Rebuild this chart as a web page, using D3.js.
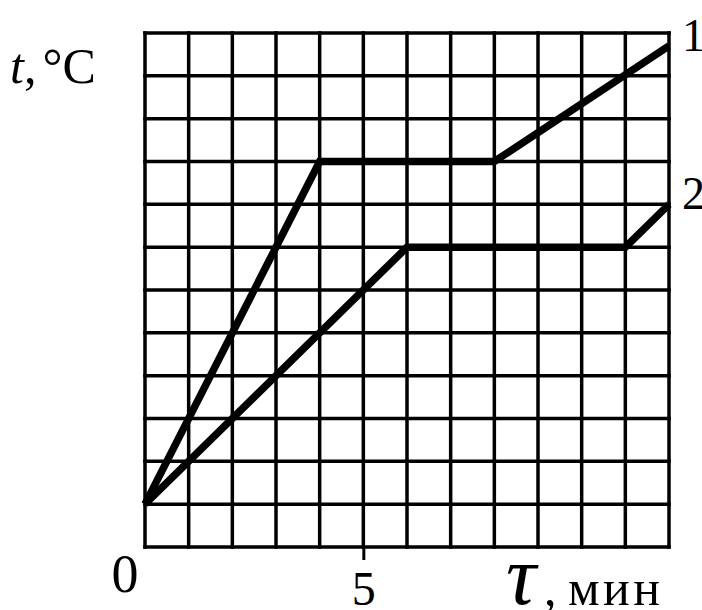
<!DOCTYPE html>
<html>
<head>
<meta charset="utf-8">
<script src="https://cdn.jsdelivr.net/npm/d3@7"></script>
<style>
  body { margin: 0; background: #fff; }
  svg { display: block; }
  text { font-family: "Liberation Serif", "Times New Roman", serif; fill: #000; }
</style>
</head>
<body>
<svg></svg>
<script>
// DATA
var curveNames = ["1", "2"];
var tau1 = [0, 4, 8, 12];        // мин
var temp1 = [0, 8, 8, 10.7];     // cells
var tau2 = [0, 6, 11, 12];
var temp2 = [0, 6, 6, 7];
var xTicks = [5];
var xDomain = [0, 12];
var yDomain = [-1, 11];

// SVG
var width = 702, height = 610;
var svg = d3.select("svg").attr("width", width).attr("height", height);

// SCALES
var x = d3.scaleLinear().domain(xDomain).range([145, 669]);
var y = d3.scaleLinear().domain(yDomain).range([547, 33]);

// GRID
var grid = svg.append("g").attr("stroke", "#000").attr("stroke-width", 3.5);

grid.selectAll(".vline")
.data(d3.range(xDomain[0], xDomain[1] + 1))
.enter()
.append("line")
.attr("class", "vline")
.attr("x1", (d)=>x(d)).attr("x2", (d)=>x(d))
.attr("y1", y(yDomain[0]) + 1.75).attr("y2", y(yDomain[1]) - 1.75);

grid.selectAll(".hline")
.data(d3.range(yDomain[0], yDomain[1] + 1))
.enter()
.append("line")
.attr("class", "hline")
.attr("y1", (d)=>y(d)).attr("y2", (d)=>y(d))
.attr("x1", x(xDomain[0]) - 1.75).attr("x2", x(xDomain[1]) + 1.75);

// X TICK
var xAxis = d3.axisBottom(x).tickValues(xTicks).tickSize(13).tickPadding(12);
var ax = svg.append("g")
.attr("transform", "translate(0," + y(yDomain[0]) + ")")
.call(xAxis);
ax.select(".domain").remove();
ax.selectAll(".tick line").attr("stroke", "#000").attr("stroke-width", 3);
ax.selectAll(".tick text")
.attr("dy", null)
.attr("y", 58)
.style("font-size", "48px")
.style("font-family", "'Liberation Serif', serif")
.attr("fill", "#000");

// CURVES
var lineGen = d3.line()
.x((d)=>x(d[0]))
.y((d)=>y(d[1]));

var curves = [d3.zip(tau1, temp1), d3.zip(tau2, temp2)];

svg.append("g")
.selectAll("path")
.data(curves)
.enter()
.append("path")
.attr("d", lineGen)
.attr("fill", "none")
.attr("stroke", "#000")
.attr("stroke-width", 7.5)
.attr("stroke-linejoin", "miter")
.attr("stroke-linecap", "butt");

// CURVE LABELS
svg.selectAll(".curveLabel")
.data(curves)
.enter()
.append("text")
.attr("class", "curveLabel")
.attr("x", 682)
.attr("y", (d)=>y(d[d.length - 1][1]) + 5)
.style("font-size", "46px")
.text((d, i)=>curveNames[i]);

// ORIGIN
svg.append("text")
.attr("x", x(0) - 20)
.attr("y", 592)
.attr("text-anchor", "middle")
.style("font-size", "54px")
.text("0");

// AXIS TITLES
var yTitle = svg.append("text")
.attr("x", 10)
.attr("y", 83)
.style("font-size", "50px");
yTitle.append("tspan").style("font-style", "italic").text("t");
yTitle.append("tspan").text(",");
yTitle.append("tspan").attr("dx", 6).text("°C");

svg.append("text")
.attr("x", 506)
.attr("y", 604)
.style("font-size", "84px")
.style("font-style", "italic")
.text("τ");

svg.append("text")
.attr("x", 544)
.attr("y", 605)
.style("font-size", "50px")
.text(",");

svg.append("text")
.attr("x", 568)
.attr("y", 605)
.style("font-size", "50px")
.attr("textLength", 92)
.text("мин");
</script>
</body>
</html>
